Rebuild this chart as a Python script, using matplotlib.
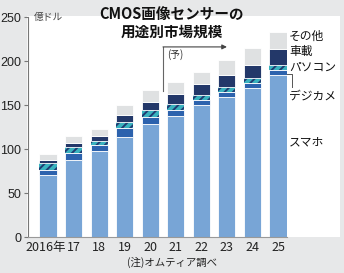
import matplotlib
matplotlib.use("Agg")
import matplotlib.pyplot as plt
from matplotlib.patches import Rectangle
import matplotlib.transforms as mtransforms
import numpy as np

plt.rcParams['font.family'] = ['Noto Sans CJK JP', 'DejaVu Sans']
plt.rcParams['hatch.linewidth'] = 1.4

years = ["2016年", "17", "18", "19", "20", "21", "22", "23", "24", "25"]
smartphone = [70, 88, 98, 114, 128, 137, 149.5, 159.5, 169, 184]
digicam = [6, 7, 6, 10, 8.5, 7, 6, 5.5, 5.5, 6]
pc = [8, 7, 5.5, 6.5, 7.5, 7.5, 5.5, 5.5, 6, 6]
auto = [4, 5, 5.5, 8, 9, 11, 12.5, 14, 15.5, 17.5]
other = [6, 8, 8, 12, 13.5, 14, 14.5, 16.5, 19, 19.5]
yticks = [0, 50, 100, 150, 200, 250]
series_names = ["スマホ", "デジカメ", "パソコン", "車載", "その他"]

W, H = 344, 273
fig = plt.figure(figsize=(W / 100, H / 100), dpi=100)
fig.patch.set_facecolor('#e7e8e9')

# white panel
fig.patches.append(Rectangle((27 / W, (H - 237) / H), (340 - 27) / W, (237 - 16) / H,
                             transform=fig.transFigure, facecolor='white',
                             edgecolor='none', zorder=-5))

ax = fig.add_axes([28 / W, (H - 237) / H, (287 - 28) / W, (237 - 17) / H])
ax.set_facecolor('none')
ax.set_zorder(1)
x = np.arange(len(years))
bw = 0.67
c_sp, c_dc, c_pc, c_au, c_ot = '#78a5d6', '#2c62ad', '#3ab3bf', '#233869', '#dfe1e2'

b = np.zeros(len(years))
ax.bar(x, smartphone, bw, bottom=b, color=c_sp, edgecolor='white', linewidth=0.6)
b += smartphone
ax.bar(x, digicam, bw, bottom=b, color=c_dc, edgecolor='white', linewidth=0.6)
b += digicam
ax.bar(x, pc, bw, bottom=b, color=c_pc, edgecolor='#1f3c72', linewidth=0, hatch='////')
b += pc
ax.bar(x, auto, bw, bottom=b, color=c_au, edgecolor='white', linewidth=0.6)
b += auto
ax.bar(x, other, bw, bottom=b, color=c_ot, edgecolor='white', linewidth=0.6)

ax.set_xlim(-0.78, 9.35)
ax.set_ylim(0, 250)
for s in ['top', 'right']:
    ax.spines[s].set_visible(False)
ax.spines['left'].set_color('#777777')
ax.spines['bottom'].set_color('#999999')
ax.spines['left'].set_linewidth(0.8)
ax.spines['bottom'].set_linewidth(0.8)
ax.set_yticks(yticks)
ax.set_yticklabels([str(v) for v in yticks], fontsize=9,
                   family=['Liberation Sans Narrow', 'Liberation Sans', 'DejaVu Sans'], color='#222222')
ax.set_xticks(x)
ax.set_xticklabels(years, fontsize=9,
                   family=['Liberation Sans Narrow', 'Noto Sans CJK JP'], color='#222222')
ax.tick_params(axis='y', length=3, width=0.8, color='#777777', pad=2)
ax.tick_params(axis='x', length=0, pad=3)
lbl0 = ax.get_xticklabels()[0]
lbl0.set_transform(lbl0.get_transform() + mtransforms.ScaledTranslation(-2 / 100, 0, fig.dpi_scale_trans))

# unit
fig.text(34 / W, 1 - 17 / H, "億ドル", fontsize=7, color='#444444', va='center', ha='left')

# title
fig.text(172 / W, 1 - 23 / H, "CMOS画像センサーの\n用途別市場規模", fontsize=10.5,
         fontweight='bold', ha='center', va='center', linespacing=1.15, color='#111111')

# forecast arrow
ax.annotate("", xy=(7.0, 216), xytext=(4.5, 216),
            arrowprops=dict(arrowstyle='-|>', color='#444444', lw=0.8,
                            mutation_scale=7, shrinkA=0, shrinkB=0))
ax.plot([4.5, 4.5], [166, 216], color='#666666', lw=0.8, clip_on=False)
ax.text(4.68, 207, "(予)", fontsize=7, ha='left', va='center', color='#333333')

# series labels
lx = 289
for name, yy in [("その他", 36), ("車載", 52), ("パソコン", 67), ("デジカメ", 96), ("スマホ", 142)]:
    fig.text(lx / W, 1 - yy / H, name, fontsize=8.5, ha='left', va='center', color='#111111')
# leader line
fig.lines.append(plt.Line2D([287 / W, 292 / W, 292 / W], [1 - 74 / H, 1 - 74 / H, 1 - 87 / H],
                            transform=fig.transFigure, color='#555555', lw=0.7))

# note
fig.text(172 / W, 1 - 262 / H, "(注)オムティア調べ", fontsize=7.5, ha='center', va='center', color='#222222')

fig.savefig("out.png", dpi=100, facecolor=fig.get_facecolor())
